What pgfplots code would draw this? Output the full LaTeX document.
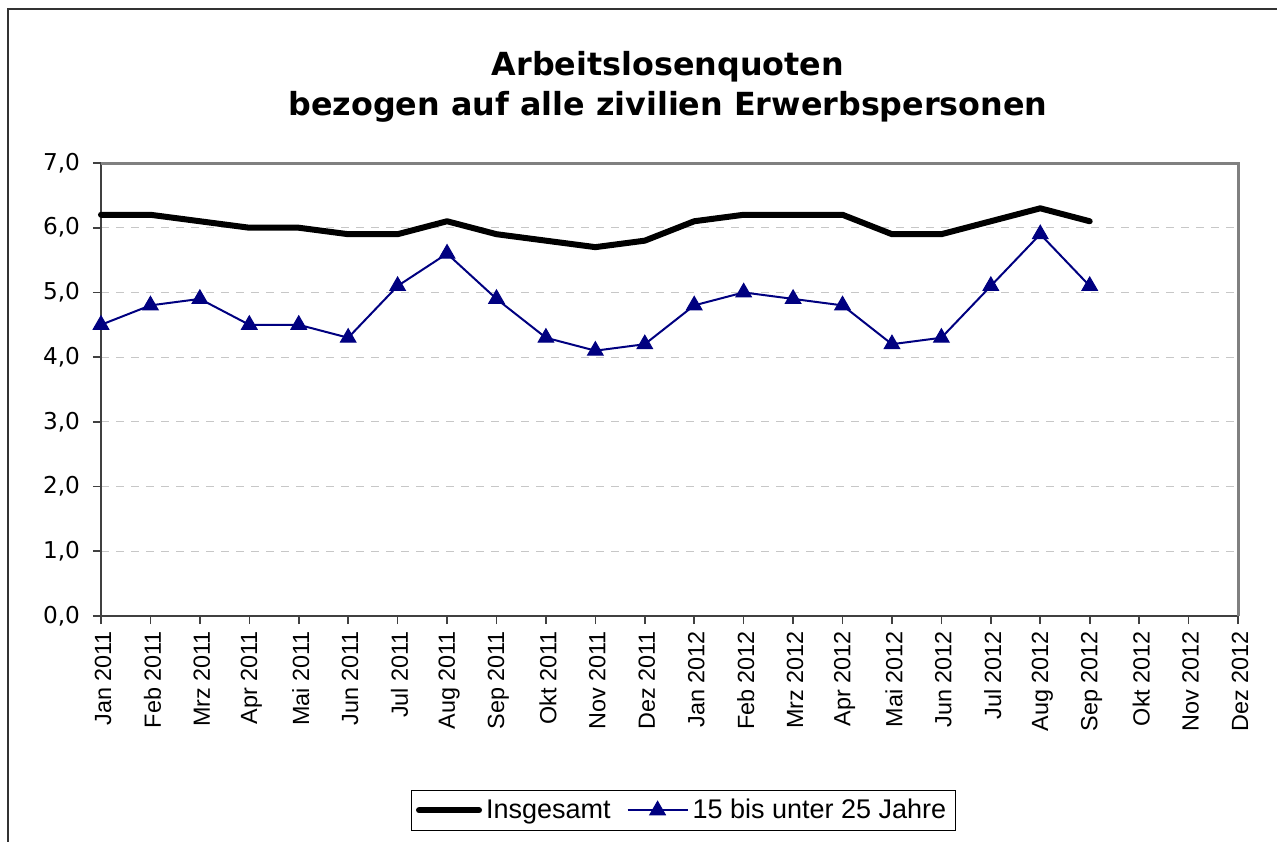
\documentclass[border=0pt]{standalone}
\usepackage{pgfplots}
\pgfplotsset{compat=1.18}
\usepackage{fontspec}
\setmainfont{Liberation Sans}
\newfontfamily\titlefont{DejaVu Sans}
\definecolor{navyc}{RGB}{0,0,128}
\definecolor{axdark}{RGB}{64,64,64}
\definecolor{axgray}{RGB}{128,128,128}
\begin{document}
\begin{tikzpicture}
\path[use as bounding box] (0,0) rectangle (638.5pt,420.5pt);
\draw[line width=1pt, color=black!80] (3.75pt,-2pt) -- (3.75pt,416pt) -- (640pt,416pt);
\node[font=\titlefont\bfseries\fontsize{15.9}{18}\selectfont] at (334pt,387pt) {Arbeitslosenquoten};
\node[font=\titlefont\bfseries\fontsize{15.9}{18}\selectfont] at (334pt,367pt) {bezogen auf alle zivilien Erwerbspersonen};
\begin{axis}[
  at={(50.5pt,112.5pt)}, anchor=south west,
  scale only axis, width=568.5pt, height=226.5pt,
  xmin=0, xmax=23, ymin=0, ymax=7,
  xtick={0,...,23},
  xticklabels={Jan 2011,Feb 2011,Mrz 2011,Apr 2011,Mai 2011,Jun 2011,Jul 2011,Aug 2011,Sep 2011,Okt 2011,Nov 2011,Dez 2011,Jan 2012,Feb 2012,Mrz 2012,Apr 2012,Mai 2012,Jun 2012,Jul 2012,Aug 2012,Sep 2012,Okt 2012,Nov 2012,Dez 2012},
  xticklabel style={rotate=90, anchor=east, font=\fontsize{11.7}{14}\selectfont, yshift=-1pt},
  ytick={0,1,...,7},
  yticklabel style={font=\titlefont\fontsize{11.6}{14}\selectfont},
  yticklabel shift=3pt,
  /pgf/number format/assume math mode=true,
  yticklabel={\pgfmathprintnumber[fixed,fixed zerofill,precision=1,use comma]{\tick}},
  tick align=outside, tick pos=left,
  major tick length=4pt,
  tick style={color=axdark, line width=0.8pt},
  axis x line*=bottom, axis y line*=left,
  axis line style={-, color=axdark, line width=1pt},
  ymajorgrids,
  major grid style={dash pattern=on 4pt off 3.5pt, color=black!22, line width=0.5pt},
  legend style={at={(0.512,-0.429)}, anchor=center, draw=black, line width=0.5pt,
    font=\fontsize{13.5}{15}\selectfont, legend columns=-1,
    /tikz/every even column/.append style={column sep=6pt}, inner sep=2.5pt},
  legend image code/.code={\draw[mark repeat=2,mark phase=2,#1] plot coordinates {(0pt,0pt) (15pt,0pt) (30pt,0pt)};},
  clip=false,
]
\draw[color=axgray, line width=1.5pt] (rel axis cs:0,1) -- (rel axis cs:1,1) -- (rel axis cs:1,0);
\addplot[black, line width=3pt, line cap=round, line join=round] coordinates {
(0,6.2) (1,6.2) (2,6.1) (3,6.0) (4,6.0) (5,5.9) (6,5.9) (7,6.1) (8,5.9) (9,5.8) (10,5.7) (11,5.8)
(12,6.1) (13,6.2) (14,6.2) (15,6.2) (16,5.9) (17,5.9) (18,6.1) (19,6.3) (20,6.1)};
\addlegendentry{Insgesamt}
\addplot[navyc, line width=1pt, mark=triangle*, mark size=4.5pt, mark options={fill=navyc, solid, line width=0.5pt}] coordinates {
(0,4.5) (1,4.8) (2,4.9) (3,4.5) (4,4.5) (5,4.3) (6,5.1) (7,5.6) (8,4.9) (9,4.3) (10,4.1) (11,4.2)
(12,4.8) (13,5.0) (14,4.9) (15,4.8) (16,4.2) (17,4.3) (18,5.1) (19,5.9) (20,5.1)};
\addlegendentry{15 bis unter 25 Jahre}
\end{axis}
\end{tikzpicture}
\end{document}
